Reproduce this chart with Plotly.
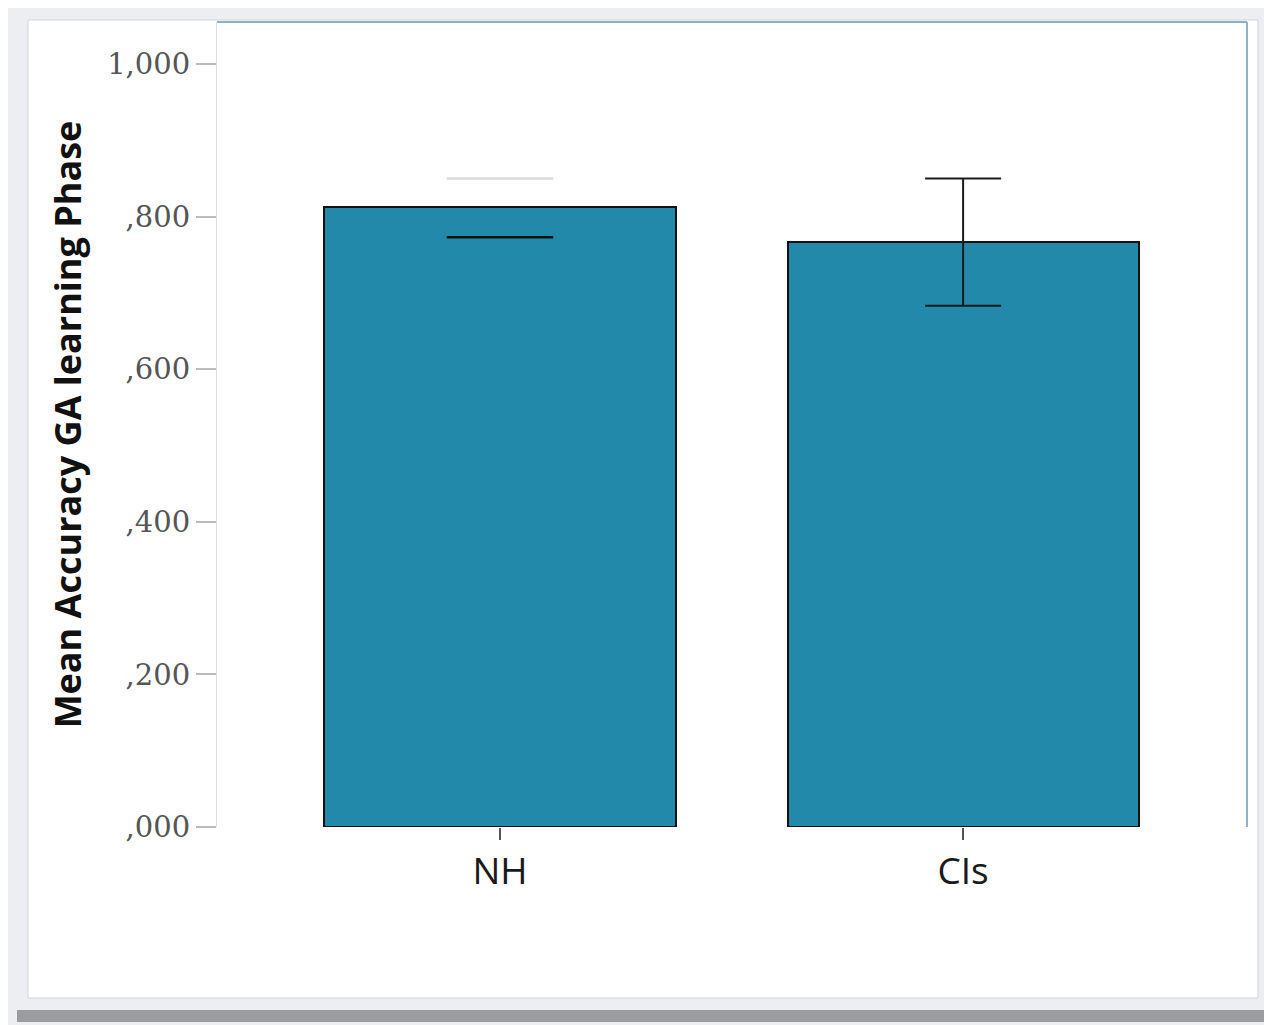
import plotly.graph_objects as go

categories = ["NH", "CIs"]
means = [0.812, 0.767]
ci_upper = [0.850, 0.850]
ci_lower = [0.773, 0.683]
tick_vals = [0, 0.2, 0.4, 0.6, 0.8, 1.0]
tick_text = [",000", ",200", ",400", ",600", ",800", "1,000"]

xpos = list(range(len(categories)))

fig = go.Figure()
fig.add_trace(go.Bar(
    x=xpos, y=means, width=0.758,
    marker=dict(color="#2389ab", line=dict(color="#111111", width=2)),
    showlegend=False, hoverinfo="skip",
))

# CIs error bar (full)
fig.add_trace(go.Scatter(
    x=[xpos[1]], y=[means[1]], mode="markers",
    marker=dict(size=1, opacity=0),
    error_y=dict(type="data", symmetric=False,
                 array=[ci_upper[1] - means[1]], arrayminus=[means[1] - ci_lower[1]],
                 color="#1a1a1a", thickness=2, width=38),
    showlegend=False, hoverinfo="skip",
))

# NH error bar caps only (as rendered in the reference)
fig.add_trace(go.Scatter(
    x=[xpos[0], xpos[0]], y=[ci_upper[0], ci_lower[0]], mode="markers",
    marker=dict(symbol="line-ew", size=76,
                line=dict(color=["#d9d9d9", "#111111"], width=2.5)),
    showlegend=False, hoverinfo="skip",
))

# white panel and outer frame
fig.add_shape(type="rect", xref="paper", yref="paper", layer="below",
              x0=-189/1030, x1=1.0 + 11/1030, y0=-171/805, y1=1.0 + 2/805,
              fillcolor="white", line=dict(color="#d0d3d8", width=1))
# shadow at bottom
fig.add_shape(type="rect", xref="paper", yref="paper", layer="below",
              x0=-200/1030, x1=1.0 + 25/1030, y0=-195/805, y1=-183/805,
              fillcolor="#9a9ca0", line=dict(width=0))
# plot area top & right border
fig.add_shape(type="line", xref="paper", yref="paper", x0=0, x1=1, y0=1, y1=1,
              line=dict(color="#8fb1c2", width=2))
fig.add_shape(type="line", xref="paper", yref="paper", x0=1, x1=1, y0=0, y1=1,
              line=dict(color="#8fb1c2", width=2))

fig.update_layout(
    width=1272, height=1025,
    margin=dict(l=209, r=33, t=14, b=206),
    paper_bgcolor="#eceef1", plot_bgcolor="white",
    bargap=0,
    xaxis=dict(range=[-0.611, 1.613], tickvals=xpos, ticktext=categories,
               showline=False, showgrid=False, zeroline=False,
               ticks="outside", ticklen=12, tickwidth=2, tickcolor="#555555",
               tickfont=dict(family="Open Sans", size=37, color="#1a1a1a")),
    yaxis=dict(range=[0, 1.055], tickvals=tick_vals, ticktext=tick_text,
               showline=True, linecolor="#dddddd", linewidth=1,
               showgrid=False, zeroline=False,
               ticks="outside", ticklen=20, tickwidth=2, tickcolor="#bbbbbb",
               tickfont=dict(family="DejaVu Serif", size=29, color="#555555"),
               title=dict(text="<b>Mean Accuracy GA learning Phase</b>",
                          font=dict(family="Open Sans", size=36, color="#111111"),
                          standoff=14)),
)

fig.write_html("out.html")
